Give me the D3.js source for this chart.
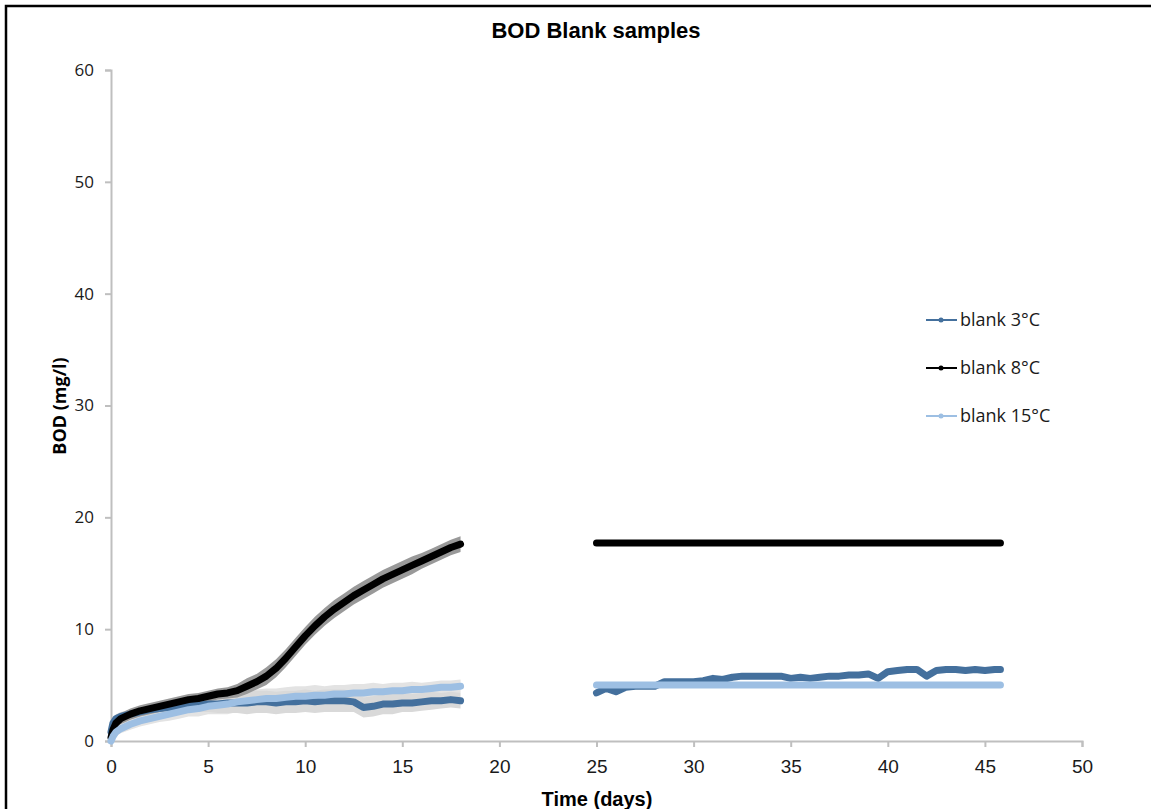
<!DOCTYPE html>
<html>
<head>
<meta charset="utf-8">
<script src="https://cdn.jsdelivr.net/npm/d3@7"></script>
<style>
  body { margin: 0; background: #fff; }
  svg { display: block; }
</style>
</head>
<body>
<svg id="chart"></svg>
<script>
// days, first run and second run (gap in between)
const days1 = [0, 0.1, 0.25, 0.5, 1, 1.5, 2, 2.5, 3, 3.5, 4, 4.5, 5, 5.5, 6, 6.5, 7, 7.5, 8, 8.5, 9,
  9.5, 10, 10.5, 11, 11.5, 12, 12.5, 13, 13.5, 14, 14.5, 15, 15.5, 16, 16.5, 17, 17.5, 18];
const days2 = [25, 25.5, 26, 26.5, 27, 27.5, 28, 28.5, 29, 29.5, 30, 30.5, 31, 31.5, 32, 32.5, 33, 33.5,
  34, 34.5, 35, 35.5, 36, 36.5, 37, 37.5, 38, 38.5, 39, 39.5, 40, 40.5, 41, 41.5, 42, 42.5, 43, 43.5,
  44, 44.5, 45, 45.5, 45.8];

// blank 3°C
const bod3a = [0.8, 1.6, 2.0, 2.2, 2.4, 2.6, 2.8, 2.9, 3.0, 3.1, 3.2, 3.2, 3.3, 3.3, 3.4, 3.4, 3.4, 3.5, 3.5, 3.4, 3.5,
  3.5, 3.6, 3.5, 3.6, 3.6, 3.6, 3.5, 3.0, 3.1, 3.3, 3.3, 3.4, 3.4, 3.5, 3.6, 3.6, 3.7, 3.6];
const err3a = [0.2, 0.3, 0.4, 0.4, 0.4, 0.4, 0.5, 0.5, 0.5, 0.5, 0.6, 0.6, 0.7, 0.8, 0.9, 0.9, 1.0, 1.0, 1.0, 1.0, 1.0,
  1.0, 1.0, 1.0, 1.0, 1.0, 1.0, 0.9, 0.9, 0.9, 0.9, 0.9, 0.8, 0.8, 0.8, 0.8, 0.7, 0.7, 0.7];
const bod3b = [4.3, 4.7, 4.4, 4.8, 4.9, 4.9, 4.9, 5.3, 5.3, 5.3, 5.3, 5.4, 5.6, 5.5, 5.7, 5.8, 5.8, 5.8,
  5.8, 5.8, 5.6, 5.7, 5.6, 5.7, 5.8, 5.8, 5.9, 5.9, 6.0, 5.6, 6.2, 6.3, 6.4, 6.4, 5.8, 6.3, 6.4, 6.4,
  6.3, 6.4, 6.3, 6.4, 6.4];

// blank 8°C
const bod8a = [0.3, 1.0, 1.6, 2.0, 2.4, 2.7, 2.9, 3.1, 3.3, 3.5, 3.7, 3.8, 4.0, 4.2, 4.3, 4.5, 4.9, 5.3, 5.8, 6.5, 7.4,
  8.4, 9.4, 10.3, 11.1, 11.8, 12.4, 13.0, 13.5, 14.0, 14.5, 14.9, 15.3, 15.7, 16.1, 16.5, 16.9, 17.3, 17.6];
const err8a = [0.3, 0.4, 0.5, 0.5, 0.5, 0.5, 0.5, 0.5, 0.5, 0.5, 0.5, 0.5, 0.5, 0.5, 0.5, 0.6, 0.7, 0.7, 0.8, 0.8, 0.8,
  0.8, 0.8, 0.8, 0.8, 0.8, 0.8, 0.8, 0.8, 0.8, 0.8, 0.8, 0.8, 0.8, 0.7, 0.7, 0.7, 0.7, 0.7];
const bod8b = [17.7, 17.7, 17.7, 17.7, 17.7, 17.7, 17.7, 17.7, 17.7, 17.7, 17.7, 17.7, 17.7, 17.7, 17.7, 17.7, 17.7, 17.7,
  17.7, 17.7, 17.7, 17.7, 17.7, 17.7, 17.7, 17.7, 17.7, 17.7, 17.7, 17.7, 17.7, 17.7, 17.7, 17.7, 17.7, 17.7, 17.7, 17.7,
  17.7, 17.7, 17.7, 17.7, 17.7];

// blank 15°C
const bod15a = [0.0, 0.4, 0.8, 1.1, 1.5, 1.8, 2.0, 2.2, 2.4, 2.6, 2.8, 2.9, 3.1, 3.2, 3.3, 3.5, 3.6, 3.7, 3.8, 3.8, 3.9,
  4.0, 4.0, 4.1, 4.1, 4.2, 4.2, 4.3, 4.3, 4.4, 4.4, 4.5, 4.5, 4.6, 4.6, 4.7, 4.8, 4.8, 4.9];
const err15a = [0.2, 0.3, 0.4, 0.4, 0.5, 0.5, 0.5, 0.5, 0.6, 0.6, 0.6, 0.7, 0.7, 0.8, 0.9, 0.9, 0.9, 0.9, 0.9, 0.9, 0.9,
  0.9, 0.9, 0.9, 0.8, 0.8, 0.8, 0.8, 0.8, 0.8, 0.7, 0.7, 0.7, 0.7, 0.6, 0.6, 0.6, 0.6, 0.6];
const bod15b = [5.0, 5.0, 5.0, 5.0, 5.0, 5.0, 5.0, 5.0, 5.0, 5.0, 5.0, 5.0, 5.0, 5.0, 5.0, 5.0, 5.0, 5.0,
  5.0, 5.0, 5.0, 5.0, 5.0, 5.0, 5.0, 5.0, 5.0, 5.0, 5.0, 5.0, 5.0, 5.0, 5.0, 5.0, 5.0, 5.0, 5.0, 5.0,
  5.0, 5.0, 5.0, 5.0, 5.0];

const xTicks = [0, 5, 10, 15, 20, 25, 30, 35, 40, 45, 50];
const yTicks = [0, 10, 20, 30, 40, 50, 60];
const legendLabels = ['blank 3°C', 'blank 8°C', 'blank 15°C'];

const width = 1151, height = 809;
const margin = { top: 70, right: 69, bottom: 68, left: 111 };

const svg = d3.select('#chart')
  .attr('width', width)
  .attr('height', height);

// outer frame
svg.append('rect')
  .attr('x', 6).attr('y', 6)
  .attr('width', width + 20).attr('height', height + 20)
  .attr('fill', 'none')
  .attr('stroke', '#000')
  .attr('stroke-width', 2.5);

const x = d3.scaleLinear().domain([0, 50]).range([margin.left, width - margin.right]);
const y = d3.scaleLinear().domain([0, 60]).range([height - margin.bottom, margin.top]);

const series = [
  { name: legendLabels[0], color: '#44709d', errColor: '#d9d9d9',
    parts: [{ d: days1, v: bod3a, e: err3a }, { d: days2, v: bod3b }] },
  { name: legendLabels[1], color: '#000000', errColor: '#999999',
    parts: [{ d: days1, v: bod8a, e: err8a }, { d: days2, v: bod8b }] },
  { name: legendLabels[2], color: '#9dbfe3', errColor: '#e3e3e3',
    parts: [{ d: days1, v: bod15a, e: err15a }, { d: days2, v: bod15b }] }
];

// error bars drawn as a band around each line
const band = d3.area()
  .x(p => x(p[0]))
  .y0(p => y(p[1] - p[2]))
  .y1(p => y(p[1] + p[2]));

[series[2], series[0], series[1]].forEach(s => {
  s.parts.filter(p => p.e).forEach(p => {
    svg.append('path')
      .datum(p.d.map((t, i) => [t, p.v[i], p.e[i]]))
      .attr('d', band)
      .attr('fill', s.errColor);
  });
});

// axes
const xAxis = d3.axisBottom(x).tickValues(xTicks).tickSize(6).tickSizeOuter(6);
const gx = svg.append('g')
  .attr('transform', `translate(0,${y(0)})`)
  .call(xAxis);
gx.select('.domain').attr('stroke', '#bfbfbf').attr('stroke-width', 2);
gx.selectAll('.tick line').attr('stroke', '#bfbfbf').attr('stroke-width', 2);
gx.selectAll('.tick text')
  .attr('y', 19)
  .attr('dy', '0.71em')
  .attr('fill', '#1a1a1a')
  .style('font-family', 'Liberation Sans, Arial, sans-serif')
  .style('font-size', '19px');

const yAxis = d3.axisLeft(y).tickValues(yTicks).tickSize(6).tickSizeOuter(6);
const gy = svg.append('g')
  .attr('transform', `translate(${x(0)},0)`)
  .call(yAxis);
gy.select('.domain').attr('stroke', '#bfbfbf').attr('stroke-width', 2);
gy.selectAll('.tick line').attr('stroke', '#bfbfbf').attr('stroke-width', 2);
gy.selectAll('.tick text')
  .attr('x', -17)
  .attr('fill', '#1a1a1a')
  .style('font-family', 'Open Sans, sans-serif')
  .style('font-size', '17px');

// lines
const line = d3.line()
  .x(p => x(p[0]))
  .y(p => y(p[1]));

series.forEach(s => {
  s.parts.forEach(p => {
    svg.append('path')
      .datum(p.d.map((t, i) => [t, p.v[i]]))
      .attr('d', line)
      .attr('fill', 'none')
      .attr('stroke', s.color)
      .attr('stroke-width', 7)
      .attr('stroke-linejoin', 'round')
      .attr('stroke-linecap', 'round');
  });
});

// titles
svg.append('text')
  .attr('x', 596).attr('y', 38)
  .attr('text-anchor', 'middle')
  .style('font-family', 'Liberation Sans, Arial, sans-serif')
  .style('font-weight', 'bold')
  .style('font-size', '22px')
  .text('BOD Blank samples');

svg.append('text')
  .attr('x', 597).attr('y', 806)
  .attr('text-anchor', 'middle')
  .style('font-family', 'Liberation Sans, Arial, sans-serif')
  .style('font-weight', 'bold')
  .style('font-size', '20px')
  .text('Time (days)');

svg.append('text')
  .attr('transform', 'translate(66,406) rotate(-90)')
  .attr('text-anchor', 'middle')
  .style('font-family', 'Open Sans, sans-serif')
  .style('font-weight', 'bold')
  .style('font-size', '18px')
  .text('BOD (mg/l)');

// legend
const legend = svg.append('g')
  .selectAll('g')
  .data(series)
  .enter()
  .append('g')
  .attr('transform', (d, i) => `translate(926,${320 + i * 48})`);

legend.append('line')
  .attr('x1', 0).attr('x2', 31)
  .attr('stroke', d => d.color)
  .attr('stroke-width', 2);

legend.append('circle')
  .attr('cx', 15).attr('r', 2.5)
  .attr('fill', d => d.color);

legend.append('text')
  .attr('x', 34).attr('dy', '0.36em')
  .attr('fill', '#1a1a1a')
  .style('font-family', 'Open Sans, sans-serif')
  .style('font-size', '18px')
  .text(d => d.name);
</script>
</body>
</html>
